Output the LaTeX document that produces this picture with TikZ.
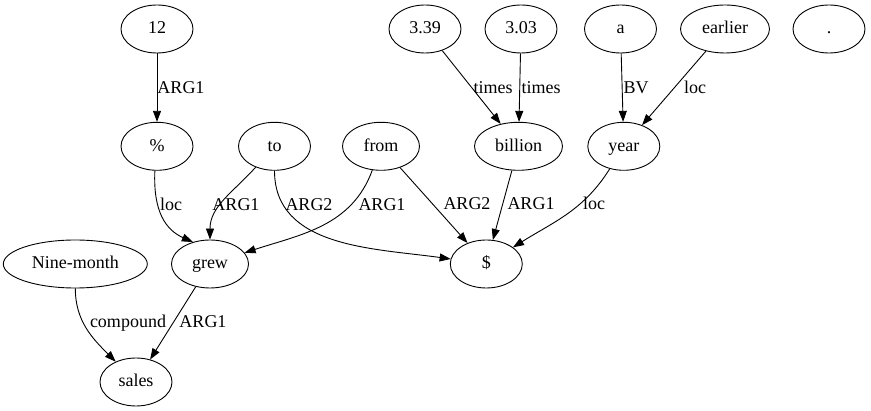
\documentclass[tikz,border=0pt]{standalone}
\usepackage{fontspec}
\setmainfont{Liberation Serif}
\usetikzlibrary{arrows.meta,shapes.geometric}
\begin{document}
\begin{tikzpicture}[x=1pt,y=-1pt,
  nd/.style={draw,ellipse,line width=0.9pt,minimum width=72pt,minimum height=48pt,inner sep=0pt,text height=13pt,text depth=3pt,font=\fontsize{18}{20}\selectfont},
  lab/.style={inner sep=0pt,text height=12pt,text depth=0pt,font=\fontsize{18}{20}\selectfont},
  ed/.style={line width=0.9pt,-{Triangle[length=11pt,width=8pt]}}]
\useasboundingbox (0,0) rectangle (871,411);
% row 1
\node[nd] (n12) at (157,29) {12};
\node[nd] (n339) at (425,29) {3.39};
\node[nd] (n303) at (521,29) {3.03};
\node[nd] (na) at (620.5,29) {a};
\node[nd,minimum width=89pt] (nearlier) at (725,29) {earlier};
\node[nd] (ndot) at (829,29) {.};
% row 2
\node[nd] (npct) at (157,146.3) {\%};
\node[nd] (nto) at (274.5,146.3) {to};
\node[nd,minimum width=77pt] (nfrom) at (381,146.3) {from};
\node[nd,minimum width=88pt] (nbillion) at (518.5,146.3) {billion};
\node[nd] (nyear) at (623.8,146.3) {year};
% row 3
\node[nd,minimum width=144pt] (nnine) at (75.3,264) {Nine-month};
\node[nd,minimum width=77pt] (ngrew) at (210,264) {grew};
\node[nd] (ndollar) at (486.3,264) {\$};
% row 4
\node[nd] (nsales) at (136,382) {sales};
% edges
\draw[ed] (n12) -- (npct) node[lab] at (181,88) {ARG1};
\draw[ed] (npct.265) .. controls (153,212) and (166,230) .. (ngrew.128) node[lab] at (171,205) {loc};
\draw[ed] (nto) to[out=228,in=90] (ngrew) node[lab] at (236,205) {ARG1};
\draw[ed] (nto) to[out=-90,in=172] (ndollar) node[lab] at (309,205) {ARG2};
\draw[ed] (nfrom) to[out=-110,in=18] (ngrew) node[lab] at (382,205) {ARG1};
\draw[ed] (nfrom) -- (ndollar) node[lab] at (467,204) {ARG2};
\draw[ed] (nbillion) -- (ndollar) node[lab] at (531,204) {ARG1};
\draw[ed] (nyear) to[out=238,in=32] (ndollar) node[lab] at (594,204) {loc};
\draw[ed] (n339) -- (nbillion) node[lab] at (493,88) {times};
\draw[ed] (n303) -- (nbillion) node[lab] at (541,88) {times};
\draw[ed] (na) -- (nyear) node[lab] at (636,88) {BV};
\draw[ed] (nearlier) -- (nyear) node[lab] at (695,88) {loc};
\draw[ed] (nnine) to[out=-90,in=135] (nsales) node[lab] at (128,322) {compound};
\draw[ed] (ngrew) -- (nsales) node[lab] at (203,322) {ARG1};
\end{tikzpicture}
\end{document}
